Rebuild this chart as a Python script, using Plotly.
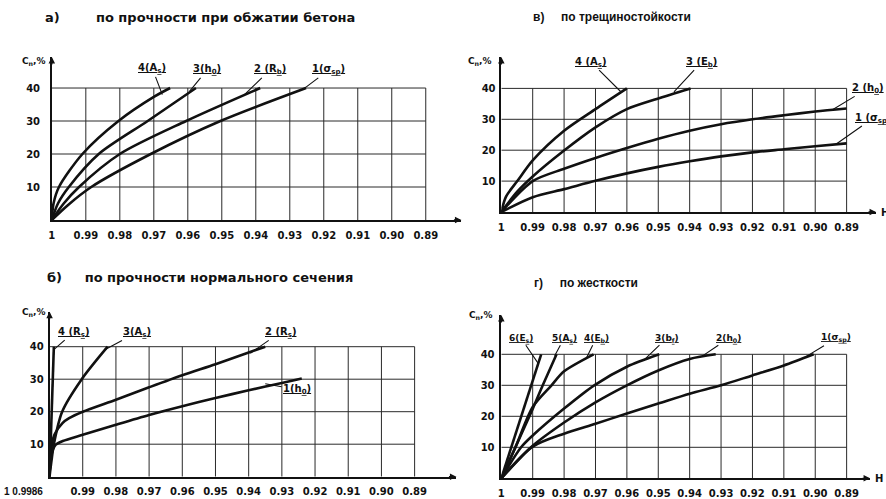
import plotly.graph_objects as go

# ---------------- data ----------------
H_ticks = [1, 0.99, 0.98, 0.97, 0.96, 0.95, 0.94, 0.93, 0.92, 0.91, 0.90, 0.89]
H_tick_text = ["1", "0.99", "0.98", "0.97", "0.96", "0.95", "0.94", "0.93", "0.92", "0.91", "0.90", "0.89"]
C_ticks = [10, 20, 30, 40]
C_tick_text = ["10", "20", "30", "40"]
grid_H = [0.99, 0.98, 0.97, 0.96, 0.95, 0.94, 0.93, 0.92, 0.91, 0.90, 0.89]
grid_C = [10, 20, 30, 40]

# panel а) по прочности при обжатии бетона
a_H1 = [1, 0.9953, 0.9884, 0.9709, 0.9504, 0.9252]
a_C1 = [0, 4.5, 10, 20, 30, 40]
a_H2 = [1, 0.9965, 0.9920, 0.9800, 0.9605, 0.9387]
a_C2 = [0, 5, 10, 20, 30, 40]
a_H3 = [1, 0.9982, 0.9950, 0.9862, 0.9718, 0.9576]
a_C3 = [0, 5, 10, 20, 30, 40]
a_H4 = [1, 0.9995, 0.9979, 0.9910, 0.9804, 0.9700, 0.9652]
a_C4 = [0, 5, 10, 20, 30, 37.3, 40]

# panel в) по трещиностойкости
v_H1 = [1, 0.99, 0.98, 0.97, 0.96, 0.95, 0.94, 0.93, 0.92, 0.91, 0.90, 0.89]
v_C1 = [0, 4.8, 7.4, 10.1, 12.5, 14.6, 16.4, 18, 19.3, 20.3, 21.3, 22.2]
v_H2 = [1, 0.99, 0.98, 0.97, 0.96, 0.95, 0.94, 0.93, 0.92, 0.91, 0.90, 0.89]
v_C2 = [0, 10, 14, 17.5, 20.7, 23.7, 26.3, 28.4, 30, 31.3, 32.5, 33.5]
v_H3 = [1, 0.995, 0.99, 0.98, 0.97, 0.96, 0.9505, 0.9397]
v_C3 = [0, 6.5, 11.5, 19.9, 27.4, 33.3, 36.6, 40]
v_H4 = [1, 0.9985, 0.9949, 0.99, 0.98, 0.97, 0.96]
v_C4 = [0, 5, 10, 16.7, 26.3, 33.3, 40]

# panel б) по прочности нормального сечения
b_H1 = [1, 0.9996, 0.9982, 0.996, 0.99, 0.98, 0.97, 0.96, 0.95, 0.94, 0.93, 0.924]
b_C1 = [0, 6, 9.8, 11, 12.9, 16.0, 19.0, 21.7, 24.2, 26.6, 28.8, 30.2]
b_H2 = [1, 0.9996, 0.9985, 0.9961, 0.9941, 0.99, 0.98, 0.97, 0.96, 0.95, 0.94, 0.935]
b_C2 = [0, 8, 13, 16.5, 18, 20, 23.7, 27.5, 31.2, 34.6, 38.2, 40]
b_H3 = [1, 0.9994, 0.9987, 0.9962, 0.9903, 0.9825]
b_C3 = [0, 5, 10, 20, 30, 40]
b_H4 = [1, 0.9987]
b_C4 = [0, 40]

# panel г) по жесткости
g_H1 = [1, 0.99, 0.98, 0.97, 0.96, 0.95, 0.94, 0.93, 0.92, 0.91, 0.9005]
g_C1 = [0, 10.2, 14.4, 17.6, 20.9, 24.1, 27.3, 30, 33.2, 36.4, 40]
g_H2 = [1, 0.99, 0.98, 0.97, 0.96, 0.95, 0.94, 0.9317]
g_C2 = [0, 10.5, 18, 24.5, 30, 34.8, 38.5, 40]
g_H3 = [1, 0.9937, 0.99, 0.98, 0.9704, 0.96, 0.9497]
g_C3 = [0, 10, 13.8, 22.5, 30, 36, 40]
g_H4 = [1, 0.9955, 0.99, 0.984, 0.98, 0.9706]
g_C4 = [0, 10, 23, 30, 34.5, 40]
g_H5 = [1, 0.9955, 0.99, 0.9868, 0.9824]
g_C5 = [0, 10, 22.4, 30, 40]
g_H6 = [1, 0.9873]
g_C6 = [0, 40]

# ---------------- figure ----------------
W, Hpx = 886, 499
FONT = "DejaVu Sans"
FONT2 = "Liberation Sans"
INK = "#111111"

panels = {
    "a": dict(xa="x", ya="y", xdom=(49, 460), ydom=(220, 57), xr=[1, 0.8795], yr=[0, 49.4],
              curves=[(a_H1, a_C1), (a_H2, a_C2), (a_H3, a_C3), (a_H4, a_C4)], ystand=8),
    "v": dict(xa="x2", ya="y2", xdom=(500, 876), ydom=(212, 57), xr=[1, 0.88063], yr=[0, 50.16],
              curves=[(v_H1, v_C1), (v_H2, v_C2), (v_H3, v_C3), (v_H4, v_C4)], ystand=2),
    "b": dict(xa="x3", ya="y3", xdom=(46.7, 455), ydom=(476.7, 311.7), xr=[1, 0.87739], yr=[0, 50.77],
              curves=[(b_H1, b_C1), (b_H2, b_C2), (b_H3, b_C3), (b_H4, b_C4)], ystand=2),
    "g": dict(xa="x4", ya="y4", xdom=(500, 870), ydom=(478.3, 315), xr=[1, 0.88254], yr=[0, 52.68],
              curves=[(g_H1, g_C1), (g_H2, g_C2), (g_H3, g_C3), (g_H4, g_C4), (g_H5, g_C5), (g_H6, g_C6)], ystand=3),
}

fig = go.Figure()
shapes = []
annotations = []
layout = {}

for key, p in panels.items():
    xa, ya = p["xa"], p["ya"]
    for hx, cy in p["curves"]:
        fig.add_trace(go.Scatter(x=hx, y=cy, xaxis=xa, yaxis=ya, mode="lines",
                                 line=dict(color=INK, width=2.6, shape="spline", smoothing=0.8),
                                 showlegend=False, hoverinfo="skip"))
    # grid
    for h in grid_H:
        shapes.append(dict(type="line", xref=xa, yref=ya, x0=h, x1=h, y0=0, y1=40,
                           line=dict(color="#2a2a2a", width=1), layer="below"))
    for c in grid_C:
        shapes.append(dict(type="line", xref=xa, yref=ya, x0=1, x1=0.89, y0=c, y1=c,
                           line=dict(color="#2a2a2a", width=1), layer="below"))
    xname = "xaxis" if xa == "x" else "xaxis" + xa[1:]
    yname = "yaxis" if ya == "y" else "yaxis" + ya[1:]
    ttext = list(H_tick_text)
    if key == "b":
        ttext[0] = ""
    layout[xname] = dict(domain=[p["xdom"][0] / W, p["xdom"][1] / W], range=p["xr"], anchor=ya,
                         showgrid=False, zeroline=False, showline=True, linecolor=INK, linewidth=1.5,
                         tickmode="array", tickvals=H_ticks, ticktext=ttext, ticks="",
                         ticklabelstandoff=5,
                         tickfont=dict(family=FONT, size=10, color=INK, weight="bold"))
    layout[yname] = dict(domain=[1 - p["ydom"][0] / Hpx, 1 - p["ydom"][1] / Hpx], range=p["yr"], anchor=xa,
                         showgrid=False, zeroline=False, showline=True, linecolor=INK, linewidth=1.5,
                         tickmode="array", tickvals=C_ticks, ticktext=C_tick_text, ticks="",
                         ticklabelstandoff=p["ystand"],
                         tickfont=dict(family=FONT, size=10, color=INK, weight="bold"))
    # axis arrow heads
    annotations.append(dict(xref=xa + " domain", yref=ya + " domain", x=1, y=0, ax=-9, ay=0,
                            text="", showarrow=True, arrowhead=2, arrowsize=1, arrowwidth=1.3,
                            arrowcolor=INK, standoff=0))
    annotations.append(dict(xref=xa + " domain", yref=ya + " domain", x=0, y=1, ax=0, ay=9,
                            text="", showarrow=True, arrowhead=2, arrowsize=1, arrowwidth=1.3,
                            arrowcolor=INK, standoff=0))

fig.update_layout(**layout)


def callout(xa, ya, text, tx, ty, hx, hy, size=10):
    annotations.append(dict(xref=xa, yref=ya, axref=xa, ayref=ya, x=hx, y=hy, ax=tx, ay=ty,
                            text="<u>" + text + "</u>", showarrow=True, arrowhead=0, arrowwidth=1.1,
                            arrowcolor=INK, font=dict(family=FONT, size=size, color=INK, weight="bold"),
                            standoff=0, startstandoff=0))


# panel а labels
callout("x", "y", "4(A<sub>s</sub>)", 0.9704, 45.8, 0.9675, 38)
callout("x", "y", "3(h<sub>0</sub>)", 0.9543, 45.5, 0.9595, 39)
callout("x", "y", "2 (R<sub>b</sub>)", 0.9358, 45.5, 0.9434, 37.9)
callout("x", "y", "1(σ<sub>sp</sub>)", 0.9185, 45.5, 0.9262, 39.5)
# panel в labels
callout("x2", "y2", "4 (A<sub>s</sub>)", 0.9714, 48.5, 0.962, 39)
callout("x2", "y2", "3 (E<sub>b</sub>)", 0.9362, 48.5, 0.945, 38.9)
callout("x2", "y2", "2 (h<sub>0</sub>)", 0.8832, 40, 0.8945, 33.1)
callout("x2", "y2", "1 (σ<sub>sp</sub>)", 0.8815, 30.4, 0.8933, 22.0)
# panel б labels
callout("x3", "y3", "4 (R<sub>s</sub>)", 0.9927, 44.5, 0.9988, 39)
callout("x3", "y3", "3(A<sub>s</sub>)", 0.9737, 44.4, 0.9835, 39)
callout("x3", "y3", "2 (R<sub>s</sub>)", 0.9305, 44.4, 0.9395, 38)
callout("x3", "y3", "1(h<sub>0</sub>)", 0.9254, 26.8, 0.935, 28.6)
# panel г labels
callout("x4", "y4", "6(E<sub>s</sub>)", 0.9937, 45.2, 0.9882, 37, 9)
callout("x4", "y4", "5(A<sub>s</sub>)", 0.9800, 45.2, 0.9830, 39.5, 9)
callout("x4", "y4", "4(E<sub>b</sub>)", 0.9698, 45.2, 0.973, 38.6, 9)
callout("x4", "y4", "3(b<sub>f</sub>)", 0.9473, 45.2, 0.9545, 38.2, 9)
callout("x4", "y4", "2(h<sub>0</sub>)", 0.9276, 45.2, 0.936, 39.4, 9)
callout("x4", "y4", "1(σ<sub>sp</sub>)", 0.8933, 45.2, 0.904, 38.6, 9)

# y-axis names
ylab = "C<sub>n</sub>,%"
for xa, ya, yy, xs in [("x", "y", 0.97, -4), ("x2", "y2", 0.968, -7), ("x3", "y3", 0.995, -2), ("x4", "y4", 0.995, -6)]:
    annotations.append(dict(xref=xa + " domain", yref=ya + " domain", x=0, y=yy, xanchor="right",
                            yanchor="middle", xshift=xs, text=ylab, showarrow=False,
                            font=dict(family=FONT, size=9, color=INK, weight="bold")))
# H labels
for xa, ya in [("x2", "y2"), ("x4", "y4")]:
    annotations.append(dict(xref=xa + " domain", yref=ya + " domain", x=1, y=0, xanchor="left",
                            yanchor="middle", xshift=3, text="H", showarrow=False,
                            font=dict(family=FONT, size=10, color=INK, weight="bold")))
# special first tick text for panel б
annotations.append(dict(xref="x3 domain", yref="y3 domain", x=0, y=0, xanchor="right", yanchor="top",
                        xshift=-5, yshift=-7, text="1 0.9986", showarrow=False,
                        font=dict(family=FONT2, size=10, color=INK, weight="bold")))

# titles
def gap(n):
    return "\u00a0" * n


titles = [("а)" + gap(8) + "по прочности при обжатии бетона", 40, 17, FONT, 13),
          ("в)" + gap(5) + "по трещиностойкости", 530, 17, FONT2, 12),
          ("б)" + gap(5) + "по прочности нормального сечения", 42, 277, FONT, 13),
          ("г)" + gap(5) + "по жесткости", 531, 283, FONT2, 12)]
for t, px, py, fam, fs in titles:
    annotations.append(dict(xref="paper", yref="paper", x=px / W, y=1 - py / Hpx, xanchor="left",
                            yanchor="middle", text=t, showarrow=False,
                            font=dict(family=fam, size=fs, color=INK, weight="bold")))

fig.update_layout(width=W, height=Hpx, margin=dict(l=0, r=0, t=0, b=0),
                  paper_bgcolor="white", plot_bgcolor="white",
                  shapes=shapes, annotations=annotations, showlegend=False)

fig.write_html("out.html", config={"displayModeBar": False},
               post_script="document.body.style.margin='0';")
